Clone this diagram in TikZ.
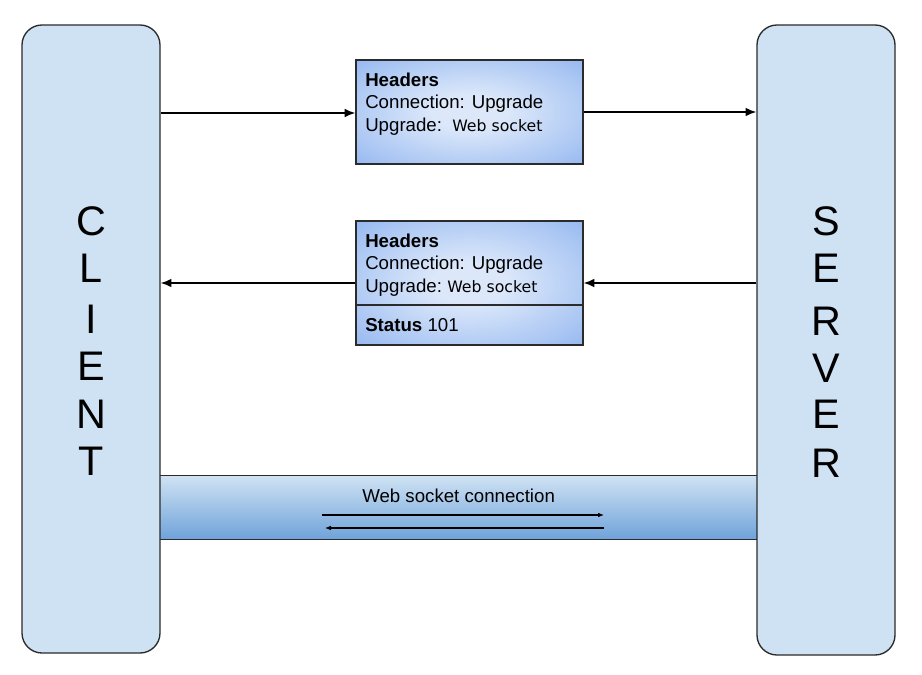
\documentclass[tikz,border=0pt]{standalone}
\usepackage{fontspec}
\setmainfont{Liberation Sans}
\newfontfamily\dvs{DejaVu Sans}
\usetikzlibrary{arrows.meta}
\definecolor{sidefill}{HTML}{CFE2F3}
\definecolor{boxout}{HTML}{5E8FE3}
\definecolor{boxmid}{HTML}{8CB2EF}
\definecolor{boxin}{HTML}{DCE8FA}
\definecolor{bandtop}{HTML}{CFE2F3}
\definecolor{bandbot}{HTML}{6FA3DA}
\definecolor{edge}{HTML}{2B2B2B}
\pgfdeclareradialshading{boxshade}{\pgfpoint{0bp}{0bp}}{color(0bp)=(boxin); color(8bp)=(boxin); color(40bp)=(boxmid); color(72bp)=(boxout); color(100bp)=(boxout)}
\begin{document}
\begin{tikzpicture}[x=0.75pt,y=-0.75pt,
  side/.style={draw=edge, line width=1pt, fill=sidefill, rounded corners=15pt,
     minimum width=103.5pt, inner sep=0},
  msgbox/.style={draw=edge, line width=0.9pt, shading=boxshade,
     minimum width=170.25pt, inner sep=0},
  big/.style={font=\fontsize{31}{31}\selectfont, anchor=base, inner sep=0},
  txt/.style={font=\fontsize{14}{14}\selectfont, anchor=base west, inner sep=0},
  ws/.style={font=\dvs\fontsize{11.8}{12}\selectfont, anchor=base west, inner sep=0},
  arr/.style={line width=1.3pt, draw=black, -{Latex[length=8pt,width=6.5pt]}},
  thin/.style={line width=0.8pt, draw=black, -{Latex[length=4.5pt,width=3.5pt]}}
]
\useasboundingbox (0,0) rectangle (922,675);
\fill[white] (0,0) rectangle (922,675);

% band
\node[minimum width=447.75pt, minimum height=47.25pt, inner sep=0,
      top color=bandtop, bottom color=bandbot] (band) at (458.5,507.5) {};
\draw[edge, line width=1pt] (band.north west) -- (band.north east);
\draw[edge, line width=1pt] (band.south west) -- (band.south east);
\node[txt] (bt) at (362,502) {Web socket connection};
\coordinate (wa) at (322,515);
\coordinate (wb) at (604,515);
\coordinate (wc) at (604,528);
\coordinate (wd) at (325,528);
\draw[thin] (wa) -- (wb);
\draw[thin] (wc) -- (wd);

% side boxes
\node[side, minimum height=471pt] (client) at (91,339) {};
\node[side, minimum height=472.5pt] (server) at (826,340) {};

\node[big] (c1) at (91,235) {C};
\node[big] (c2) at (91,282) {L};
\node[big] (c3) at (91,333) {I};
\node[big] (c4) at (91,380) {E};
\node[big] (c5) at (91,428) {N};
\node[big] (c6) at (91,475) {T};

\node[big] (s1) at (826,235) {S};
\node[big] (s2) at (826,282) {E};
\node[big] (s3) at (826,335) {R};
\node[big] (s4) at (826,382) {V};
\node[big] (s5) at (826,428) {E};
\node[big] (s6) at (826,477) {R};

% message boxes
\node[msgbox, minimum height=78pt] (b1) at (469.5,112) {};
\node[msgbox, minimum height=93pt] (b2) at (469.5,283) {};
\coordinate (d1) at (356,305);
\coordinate (d2) at (583,305);
\draw[edge, line width=0.9pt] (d1) -- (d2);

\node[txt] (h1) at (365,86) {\bfseries Headers};
\node[txt] (h2) at (365,108) {Connection: Upgrade};
\node[txt] (h3) at (365,131) {Upgrade:};
\node[ws] (h4) at (452,131) {Web socket};

\node[txt] (g1) at (365,247) {\bfseries Headers};
\node[txt] (g2) at (365,269) {Connection: Upgrade};
\node[txt] (g3) at (365,292) {Upgrade:};
\node[ws] (g4) at (447,292) {Web socket};
\node[txt] (g5) at (365,331) {\textbf{Status} 101};

% arrows
\draw[arr] (client.east |- 0,113) -- (b1.west |- 0,113);
\draw[arr] (b1.east) -- (server.west |- b1.east);
\draw[arr] (server.west |- 0,283) -- (b2.east);
\draw[arr] (b2.west) -- (client.east |- b2.west);
\end{tikzpicture}
\end{document}
